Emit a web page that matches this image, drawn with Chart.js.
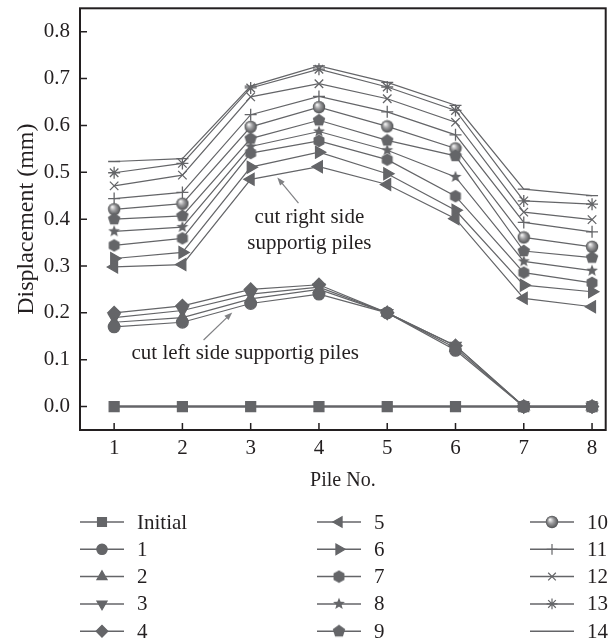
<!DOCTYPE html>
<html>
<head>
<meta charset="utf-8">
<script src="https://cdn.jsdelivr.net/npm/chart.js@4.4.0/dist/chart.umd.min.js"></script>
<style>
  html, body { margin: 0; padding: 0; background: #ffffff; }
  #div_grafico { width: 614px; height: 641px; }
</style>
</head>
<body>
<div id="div_grafico"><canvas id="grafico"></canvas></div>
<script>
// dados
const estacas = [1, 2, 3, 4, 5, 6, 7, 8];
const yTicks = [0.0, 0.1, 0.2, 0.3, 0.4, 0.5, 0.6, 0.7, 0.8];
const nomes = ['Initial', '1', '2', '3', '4', '5', '6', '7', '8', '9', '10', '11', '12', '13', '14'];

const serieInicial = [0, 0, 0, 0, 0, 0, 0, 0];
const serie1 = [0.170, 0.180, 0.220, 0.240, 0.200, 0.120, 0, 0];
const serie2 = [0.180, 0.190, 0.230, 0.250, 0.200, 0.125, 0, 0];
const serie3 = [0.190, 0.205, 0.240, 0.255, 0.200, 0.130, 0, 0];
const serie4 = [0.200, 0.215, 0.250, 0.260, 0.200, 0.130, 0, 0];
const serie5 = [0.298, 0.303, 0.485, 0.512, 0.474, 0.401, 0.231, 0.213];
const serie6 = [0.316, 0.329, 0.511, 0.543, 0.497, 0.419, 0.259, 0.245];
const serie7 = [0.344, 0.359, 0.541, 0.567, 0.527, 0.449, 0.286, 0.264];
const serie8 = [0.374, 0.383, 0.555, 0.587, 0.547, 0.490, 0.310, 0.290];
const serie9 = [0.400, 0.407, 0.572, 0.611, 0.568, 0.535, 0.332, 0.318];
const serie10 = [0.421, 0.433, 0.597, 0.639, 0.598, 0.551, 0.361, 0.341];
const serie11 = [0.444, 0.457, 0.623, 0.662, 0.629, 0.580, 0.393, 0.373];
const serie12 = [0.471, 0.494, 0.661, 0.689, 0.657, 0.607, 0.415, 0.399];
const serie13 = [0.499, 0.519, 0.680, 0.720, 0.682, 0.632, 0.439, 0.432];
const serie14 = [0.523, 0.529, 0.684, 0.727, 0.692, 0.643, 0.464, 0.450];

const series = [serieInicial, serie1, serie2, serie3, serie4, serie5, serie6, serie7,
  serie8, serie9, serie10, serie11, serie12, serie13, serie14];

const cinza = '#646568';
const fonte = 'Liberation Serif';

// marcadores que o Chart.js nao tem prontos
function marcador(tam, desenho) {
  const c = document.createElement('canvas');
  c.width = tam; c.height = tam;
  const ctx = c.getContext('2d');
  desenho(ctx, tam / 2);
  return c;
}

function poligono(ctx, m, lados, r, rInterno) {
  ctx.beginPath();
  const n = rInterno ? lados * 2 : lados;
  for (let i = 0; i < n; i++) {
    const ang = -Math.PI / 2 + i * 2 * Math.PI / n;
    const rr = (rInterno && i % 2 == 1) ? rInterno : r;
    const px = m + rr * Math.cos(ang), py = m + rr * Math.sin(ang);
    if (i == 0) ctx.moveTo(px, py); else ctx.lineTo(px, py);
  }
  ctx.closePath();
  ctx.fillStyle = cinza;
  ctx.fill();
}

const hexagono = marcador(14, (ctx, m) => poligono(ctx, m, 6, 6.3));
const estrela = marcador(14, (ctx, m) => poligono(ctx, m, 5, 6.3, 2.7));
const pentagono = marcador(14, (ctx, m) => poligono(ctx, m, 5, 6.6));
const esfera = marcador(14, (ctx, m) => {
  const g = ctx.createRadialGradient(m - 2, m - 2.5, 0.5, m, m, 6.2);
  g.addColorStop(0, '#f2f2f2');
  g.addColorStop(0.45, '#9a9a9c');
  g.addColorStop(1, '#4f5052');
  ctx.beginPath();
  ctx.arc(m, m, 6.2, 0, Math.PI * 2);
  ctx.fillStyle = g;
  ctx.fill();
});

const estilos = ['rect', 'circle', 'triangle', 'triangle', 'rectRot', 'triangle', 'triangle',
  hexagono, estrela, pentagono, esfera, 'cross', 'crossRot', 'star', 'line'];
const rotacoes = [0, 0, 0, 180, 0, 270, 90, 0, 0, 0, 0, 0, 0, 0, 0];
const raios = [7, 5.8, 6.5, 6.5, 6.5, 6.8, 6.8, 6, 6, 6, 6, 6, 6, 6, 6];

const datasets = series.map(function (valores, i) {
  return {
    label: nomes[i],
    data: valores.map((v, k) => ({ x: estacas[k], y: v })),
    borderColor: cinza,
    backgroundColor: cinza,
    borderWidth: i == 0 ? 2.5 : 1.2,
    pointStyle: estilos[i],
    rotation: rotacoes[i],
    pointRadius: raios[i],
    pointHoverRadius: raios[i],
    pointBackgroundColor: cinza,
    pointBorderColor: cinza,
    pointBorderWidth: 1.3,
    tension: 0
  };
});

// textos com setas, em unidades dos eixos
const notas = [
  { linhas: ['cut right side', 'supportig piles'], x: 3.86, y: 0.404, passo: 0.056, de: [3.70, 0.434], para: [3.39, 0.489] },
  { linhas: ['cut left side supportig piles'], x: 2.92, y: 0.114, passo: 0, de: [2.31, 0.142], para: [2.73, 0.201] }
];

const moldura = {
  id: 'moldura',
  afterDatasetsDraw(chart) {
    const { ctx, chartArea: a, scales: { x, y } } = chart;
    ctx.save();
    ctx.strokeStyle = '#231f20';
    ctx.lineWidth = 1.5;
    ctx.beginPath();
    x.ticks.forEach(t => {
      const px = x.getPixelForValue(t.value);
      ctx.moveTo(px, a.bottom); ctx.lineTo(px, a.bottom - 7);
    });
    y.ticks.forEach(t => {
      const py = y.getPixelForValue(t.value);
      ctx.moveTo(a.left, py); ctx.lineTo(a.left + 7, py);
    });
    ctx.stroke();
    ctx.lineWidth = 2;
    ctx.strokeRect(a.left, a.top, a.right - a.left, a.bottom - a.top);

    // anotacoes
    ctx.font = '21px "' + fonte + '"';
    ctx.textAlign = 'center';
    ctx.textBaseline = 'middle';
    notas.forEach(n => {
      ctx.fillStyle = '#231f20';
      n.linhas.forEach((t, k) => {
        ctx.fillText(t, x.getPixelForValue(n.x), y.getPixelForValue(n.y - k * n.passo));
      });
      const x0 = x.getPixelForValue(n.de[0]), y0 = y.getPixelForValue(n.de[1]);
      const x1 = x.getPixelForValue(n.para[0]), y1 = y.getPixelForValue(n.para[1]);
      const ang = Math.atan2(y1 - y0, x1 - x0);
      ctx.strokeStyle = '#808184';
      ctx.fillStyle = '#808184';
      ctx.lineWidth = 1.2;
      ctx.beginPath();
      ctx.moveTo(x0, y0);
      ctx.lineTo(x1 - 5 * Math.cos(ang), y1 - 5 * Math.sin(ang));
      ctx.stroke();
      ctx.beginPath();
      ctx.moveTo(x1, y1);
      ctx.lineTo(x1 - 8 * Math.cos(ang) + 3 * Math.sin(ang), y1 - 8 * Math.sin(ang) - 3 * Math.cos(ang));
      ctx.lineTo(x1 - 8 * Math.cos(ang) - 3 * Math.sin(ang), y1 - 8 * Math.sin(ang) + 3 * Math.cos(ang));
      ctx.closePath();
      ctx.fill();
    });
    ctx.restore();
  }
};

// legenda em tres colunas, preenchida por coluna
const legenda = {
  id: 'legenda',
  afterDraw(chart) {
    const ctx = chart.ctx;
    const colunas = [80, 317, 530];
    ctx.save();
    ctx.font = '21px "' + fonte + '"';
    ctx.textAlign = 'left';
    ctx.textBaseline = 'middle';
    chart.data.datasets.forEach((ds, i) => {
      const cx = colunas[Math.floor(i / 5)];
      const cy = 522 + (i % 5) * 27.3;
      ctx.strokeStyle = cinza;
      ctx.fillStyle = cinza;
      ctx.lineWidth = 1.5;
      ctx.beginPath();
      ctx.moveTo(cx, cy); ctx.lineTo(cx + 44, cy);
      ctx.stroke();
      if (i < 14) {
        ctx.lineWidth = 1.2;
        Chart.helpers.drawPoint(ctx, {
          pointStyle: ds.pointStyle, rotation: ds.rotation,
          radius: ds.pointRadius * 0.9, borderWidth: 1.2
        }, cx + 22, cy);
      }
      ctx.fillStyle = '#231f20';
      ctx.fillText(ds.label, cx + 57, cy + 1);
    });
    ctx.restore();
  }
};

const grafico = new Chart(document.getElementById('grafico'), {
  type: 'line',
  data: { datasets: datasets },
  plugins: [moldura, legenda],
  options: {
    responsive: true,
    maintainAspectRatio: false,
    animation: false,
    layout: { padding: { left: 8, right: 7, top: 8, bottom: 144 } },
    plugins: {
      legend: { display: false },
      tooltip: { enabled: false }
    },
    scales: {
      x: {
        type: 'linear',
        min: 0.5,
        max: 8.2,
        afterBuildTicks: s => { s.ticks = estacas.map(v => ({ value: v })); },
        afterFit: s => { s.height = 67; s.paddingLeft = 0; s.paddingRight = 0; },
        grid: { display: false, drawTicks: false },
        border: { display: false },
        ticks: { color: '#231f20', padding: 6, font: { family: fonte, size: 21 } },
        title: { display: true, text: 'Pile No.', color: '#231f20', font: { family: fonte, size: 20 } }
      },
      y: {
        min: -0.05,
        max: 0.85,
        afterBuildTicks: s => { s.ticks = yTicks.map(v => ({ value: v })); },
        afterFit: s => { s.width = 72; s.paddingTop = 0; s.paddingBottom = 0; },
        grid: { display: false, drawTicks: false },
        border: { display: false },
        ticks: {
          color: '#231f20', padding: 10, font: { family: fonte, size: 21 },
          callback: v => Number(v).toFixed(1)
        },
        title: { display: true, text: 'Displacement (mm)', color: '#231f20', font: { family: fonte, size: 24 } }
      }
    }
  }
});
</script>
</body>
</html>
